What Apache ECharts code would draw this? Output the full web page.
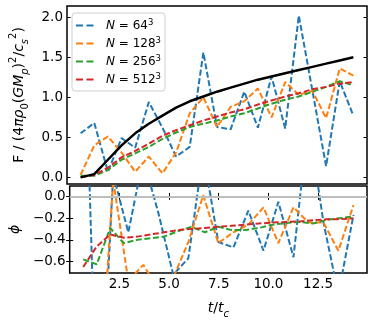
<!DOCTYPE html>
<html>
<head>
<meta charset="utf-8">
<script src="https://cdn.jsdelivr.net/npm/echarts@6/dist/echarts.min.js"></script>
<style>
  html, body { margin: 0; padding: 0; background: #fff; }
  #chart { width: 374px; height: 320px; }
</style>
</head>
<body>
<div id="chart"></div>
<script>
// Time samples (t / t_c)
const tFine = [0.68, 1.36, 2.04, 2.72, 3.40, 4.08, 4.76, 5.44, 6.12, 6.80, 7.48,
  8.16, 8.84, 9.52, 10.20, 10.88, 11.56, 12.24, 12.92, 13.60, 14.28];
const tCoarse = [0.68, 1.44, 2.19, 2.95, 3.70, 4.46, 5.21, 5.97, 6.72, 7.48,
  8.24, 8.99, 9.75, 10.50, 11.26, 12.01, 12.77, 13.52, 14.28];

// Resolutions
const resolutions = ['64', '128', '256', '512'];
const colors = ['#1f77b4', '#ff7f0e', '#2ca02c', '#d62728'];

// Top panel: F / (4 pi rho0 (G Mp)^2 / cs^2)
const fluxAnalytic = [0.00, 0.04, 0.22, 0.40, 0.55, 0.67, 0.77, 0.87, 0.95, 1.01, 1.07,
  1.12, 1.17, 1.22, 1.26, 1.30, 1.34, 1.38, 1.42, 1.46, 1.50];
const fluxN64 = [0.55, 0.68, 0.07, 0.49, 0.37, 0.94, 0.62, 0.26, 0.38, 1.56, 0.63,
  0.60, 1.07, 0.62, 1.26, 0.61, 2.02, 1.08, 0.14, 1.20, 0.77];
const fluxN128 = [0.03, 0.40, 0.51, 0.31, 0.07, 0.26, 0.05, 0.31, 0.80, 1.00, 0.63,
  0.88, 0.95, 1.11, 0.75, 1.19, 1.03, 1.08, 0.74, 1.36, 1.27];
const fluxN256 = [0.02, 0.02, 0.09, 0.22, 0.30, 0.38, 0.48, 0.56, 0.63, 0.67, 0.71,
  0.76, 0.80, 0.86, 0.92, 0.97, 1.01, 1.07, 1.13, 1.20, 1.15];
const fluxN512 = [0.00, 0.03, 0.12, 0.25, 0.33, 0.42, 0.52, 0.59, 0.65, 0.71, 0.76,
  0.81, 0.85, 0.91, 0.96, 1.01, 1.05, 1.10, 1.13, 1.17, 1.19];

// Bottom panel: phi
const phiN64 = [2.0, -2.5, 0.2, -0.33, 0.35, -0.15, -0.72, -0.57, 0.4, -0.42,
  -0.47, -0.13, -0.50, -0.05, -0.56, 0.7, -0.24, -0.9, -0.17];
const phiN128 = [-1.0, -2.0, 0.15, -0.78, -0.63, -0.85, -0.75, -0.42, 0.01, -0.43,
  -0.33, -0.26, -0.10, -0.43, -0.10, -0.24, -0.24, -0.50, -0.08];
const phiN256 = [-0.58, -0.625, -0.29, -0.43, -0.40, -0.385, -0.37, -0.32, -0.28, -0.33, -0.28,
  -0.31, -0.31, -0.29, -0.26, -0.245, -0.235, -0.25, -0.215, -0.20, -0.185];
const phiN512 = [-0.65, -0.46, -0.35, -0.38, -0.37, -0.35, -0.33, -0.31, -0.30, -0.29, -0.28,
  -0.27, -0.26, -0.25, -0.24, -0.235, -0.23, -0.22, -0.21, -0.21, -0.20];

// Ticks
const xTicks = [2.5, 5, 7.5, 10, 12.5];
const fluxTicks = [0, 0.5, 1, 1.5, 2];
const phiTicks = [0, -0.2, -0.4, -0.6];

const FONT = 'DejaVu Sans';
const dash = [6, 2.6];

function pairs(t, v) {
  return t.map((x, i) => [x, v[i]]);
}

function fmt(v) {
  return v.toFixed(1).replace('-', '\u2212');
}

const mathRich = {
  r: { fontFamily: FONT, fontSize: 14, color: '#000' },
  i: { fontFamily: FONT, fontSize: 14, fontStyle: 'italic', color: '#000' },
  sub: { fontFamily: FONT, fontSize: 10, color: '#000', verticalAlign: 'bottom', lineHeight: 22 },
  subi: { fontFamily: FONT, fontSize: 10, fontStyle: 'italic', color: '#000', verticalAlign: 'bottom', lineHeight: 22 },
  sup: { fontFamily: FONT, fontSize: 10, color: '#000', verticalAlign: 'top', lineHeight: 22 }
};

const chart = echarts.init(document.getElementById('chart'), null, { renderer: 'canvas' });

const xRange = { min: 0, max: 14.96 };
const fluxRange = { min: -0.083, max: 2.14 };
const phiRange = { min: -0.705, max: 0.096 };

function xAxis(gridIndex, position, labels) {
  return {
    type: 'value', gridIndex: gridIndex, position: position,
    min: xRange.min, max: xRange.max,
    axisLine: { show: false },
    splitLine: { show: false },
    axisTick: { show: true, inside: true, length: 3.5, customValues: xTicks,
      lineStyle: { color: '#000', width: 1 } },
    axisLabel: { show: labels, customValues: xTicks, formatter: fmt, margin: 4.5,
      fontFamily: FONT, fontSize: 13.5, color: '#000' }
  };
}

function yAxis(gridIndex, position, range, ticks, labels) {
  return {
    type: 'value', gridIndex: gridIndex, position: position,
    min: range.min, max: range.max,
    axisLine: { show: false },
    splitLine: { show: false },
    axisTick: { show: true, inside: true, length: 3.5, customValues: ticks,
      lineStyle: { color: '#000', width: 1 } },
    axisLabel: { show: labels, customValues: ticks, formatter: fmt, margin: 4,
      fontFamily: FONT, fontSize: 13.5, color: '#000' }
  };
}

const xAxes = [
  xAxis(0, 'bottom', false),
  xAxis(1, 'bottom', true),
  xAxis(1, 'top', false)
];
xAxes[0].axisTick.show = false;
xAxes[1].name = '{i|t}{r|/}{i|t}{subi|c}';
xAxes[1].nameLocation = 'middle';
xAxes[1].nameGap = 24;
xAxes[1].nameTextStyle = { rich: mathRich };

const yAxes = [
  yAxis(0, 'left', fluxRange, fluxTicks, true),
  yAxis(1, 'left', phiRange, phiTicks, true),
  yAxis(0, 'right', fluxRange, fluxTicks, false),
  yAxis(1, 'right', phiRange, phiTicks, false)
];
yAxes[0].name = '{r|F / (4}{i|\u03c0\u03c1}{sub|0}{r|(}{i|GM}{subi|p}{r|)}{sup|2}{r|/}{i|c}{subi|s}{sup|2}{r|)}';
yAxes[0].nameLocation = 'middle';
yAxes[0].nameRotate = 90;
yAxes[0].nameGap = 18;
yAxes[0].nameTextStyle = { rich: mathRich };
yAxes[1].name = '{i|\u03d5}';
yAxes[1].nameLocation = 'middle';
yAxes[1].nameRotate = 90;
yAxes[1].nameGap = 45;
yAxes[1].nameTextStyle = { rich: mathRich };

const fluxData = [fluxN64, fluxN128, fluxN256, fluxN512];
const phiData = [phiN64, phiN128, phiN256, phiN512];
const phiTimes = [tCoarse, tCoarse, tFine, tFine];

const series = [];
// Bottom panel
resolutions.forEach((res, k) => {
  const s = {
    name: res, type: 'line', xAxisIndex: 1, yAxisIndex: 1,
    data: pairs(phiTimes[k], phiData[k]),
    symbol: 'none', clip: true,
    lineStyle: { color: colors[k], width: 2, type: dash },
    itemStyle: { color: colors[k] }
  };
  if (k === 0) {
    s.markLine = {
      silent: true, symbol: ['none', 'none'], label: { show: false },
      lineStyle: { color: '#bdbdbd', width: 2, type: 'solid' },
      data: [{ yAxis: 0 }]
    };
  }
  series.push(s);
});
// Top panel
resolutions.forEach((res, k) => {
  series.push({
    name: res, type: 'line', xAxisIndex: 0, yAxisIndex: 0,
    data: pairs(tFine, fluxData[k]),
    symbol: 'none', clip: true,
    lineStyle: { color: colors[k], width: 2, type: dash },
    itemStyle: { color: colors[k] }
  });
});
series.push({
  name: 'analytic', type: 'line', xAxisIndex: 0, yAxisIndex: 0,
  data: pairs(tFine, fluxAnalytic),
  symbol: 'none', clip: true,
  lineStyle: { color: '#000', width: 2.5, type: 'solid' },
  itemStyle: { color: '#000' }
});

const option = {
  animation: false,
  backgroundColor: '#fff',
  grid: [
    { left: 67, top: 6, width: 300, height: 178, show: true,
      borderColor: '#000', borderWidth: 1.5, backgroundColor: 'transparent' },
    { left: 67, top: 186, width: 300, height: 89, show: true,
      borderColor: '#000', borderWidth: 1.5, backgroundColor: 'transparent' }
  ],
  xAxis: xAxes,
  yAxis: yAxes,
  legend: {
    data: resolutions,
    orient: 'vertical',
    left: 72, top: 13,
    itemWidth: 18, itemHeight: 10, itemGap: 3,
    padding: [5, 4, 4, 3],
    backgroundColor: 'rgba(255,255,255,0.8)',
    borderColor: '#d0d0d0', borderWidth: 1, borderRadius: 3,
    itemStyle: { opacity: 0 },
    lineStyle: { width: 2, type: [7, 3.5] },
    formatter: name => '{gap|}{i|N} = ' + name + '{sup|3}',
    textStyle: {
      fontFamily: FONT, fontSize: 12, color: '#000', lineHeight: 15,
      rich: {
        gap: { width: 7 },
        i: { fontFamily: FONT, fontSize: 12, fontStyle: 'italic', color: '#000', lineHeight: 15 },
        sup: { fontFamily: FONT, fontSize: 8.5, color: '#000', verticalAlign: 'top', lineHeight: 15 }
      }
    }
  },
  series: series
};

chart.setOption(option);
</script>
</body>
</html>
